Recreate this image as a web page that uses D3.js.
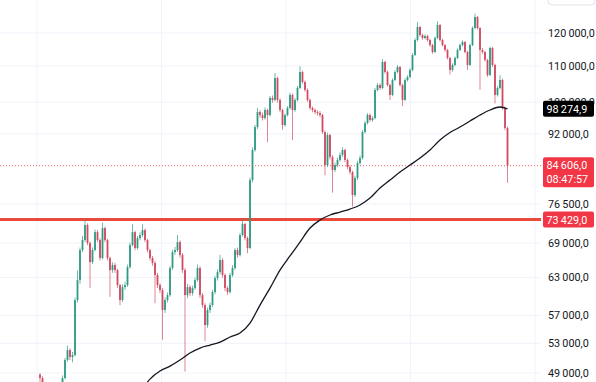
<!DOCTYPE html>
<html><head><meta charset="utf-8">
<script src="https://cdn.jsdelivr.net/npm/d3@7"></script>
<style>html,body{margin:0;padding:0;background:#fff;}svg{display:block;}</style>
</head><body><div id="chart"></div>
<script>
// ---- data ----
const firstOpen = 48800;
const closes = [48360,47480,46610,47110,46240,46860,45880,46490,47360,48360,
50710,52060,51110,51380,59390,62600,67750,69560,72360,69010,
65640,67750,71030,69560,66340,71790,69560,66340,64270,65120,
64270,61780,59390,61450,61780,64780,68650,71030,68110,69920,
70480,71410,69560,67750,66340,65470,63430,61780,60970,57850,
59390,60170,64610,67390,67750,69190,66860,64270,60170,61450,
60490,61290,62600,64610,60170,58610,55600,57850,58610,60650,
62930,63930,65990,63430,61290,60650,63430,64610,67750,66860,
70480,72550,69920,68110,81470,88170,93670,97450,96680,95920,
97970,96680,101130,100600,106590,100600,97970,94170,96680,98490,
101930,97970,100600,103820,108290,105470,103280,100600,98490,97970,
97450,97190,96680,92450,84750,91720,86550,83650,84750,85880,
87010,88170,85880,84300,83210,78320,81900,85200,86330,92450,
94670,96680,95420,95920,103280,104640,103820,111180,108290,104640,
101930,106030,108290,109720,104640,100600,106030,106870,108860,113250,
117810,121910,119370,118430,119060,117810,116260,114150,118430,122550,
117810,116260,114750,112360,108860,110310,112360,114750,116260,117190,
114150,110310,116260,121590,125160,121590,114750,114150,111770,107430,
115350,110310,101930,103820,106030,98490,93430,84606];
const highs = [49000,48600,47700,47400,47300,47100,47000,46800,47600,48700,
51000,52700,52300,51800,59800,64200,68200,70300,73300,72700,
69300,68200,71500,71400,69900,72800,72100,69800,66600,65600,
65500,64500,62000,61900,62300,65200,69100,72500,71300,70300,
71000,72500,71700,69800,68000,66700,65800,63800,62100,61300,
59800,60600,65000,67800,68300,70500,69500,67200,64600,62000,
61800,61700,63000,65200,64900,60500,58900,58200,59000,61000,
63300,64400,66900,66300,63700,61600,63800,65100,68100,68200,
70900,73500,72800,70200,82000,88800,94200,98500,98000,97300,
98600,98300,101700,101800,108000,107000,101000,98300,97100,99000,
102500,102300,101100,104400,109900,108700,105900,103700,101000,98900,
98400,97900,97700,97000,92800,92300,92000,87000,85300,86400,
87600,88800,88500,86200,84700,83500,82400,85700,86900,92900,
95200,97200,97100,96400,103800,105200,105100,112000,111600,108700,
105000,106500,108800,110300,110000,105000,106500,107400,109400,113800,
118400,123500,122300,119800,119600,119500,118200,116600,118900,123800,
122900,118200,116600,115100,112700,110800,112800,115200,116700,117700,
117500,114500,116700,122100,126300,125500,121900,115300,114500,112100,
115800,115700,110700,104300,107400,106400,98900,93800];
const lows = [47700,47100,46300,46400,45900,46000,45600,45700,46300,47200,
48200,50500,50700,50400,51200,59000,62000,67400,69200,68600,
61300,65300,67500,69200,65900,66100,69200,65900,59900,63800,
63800,61300,58600,59100,61000,61500,64500,68400,67700,67800,
69500,70100,69200,67300,65900,65000,58900,61300,60500,53500,
57400,59000,59900,64300,66900,67400,66400,63800,49200,59700,
60000,60100,61000,62300,59700,58200,53300,55200,57400,58300,
60300,62500,63600,63000,60800,60200,60400,63100,64300,66400,
66600,70200,69500,67200,67900,81000,87800,93200,96000,95300,
95500,90000,96300,99900,100200,99900,97400,93000,93800,96300,
98100,90500,97500,100200,103500,105000,102800,100100,98000,97400,
96900,96600,96100,92000,82500,84300,86000,78800,83200,84300,
85500,86600,85400,83800,82700,76000,77900,81500,84800,86000,
92100,94300,95000,95000,95600,102900,103300,103500,107800,104200,
100600,101600,105700,107900,104200,99000,100300,105600,106500,108500,
112900,117400,118900,117900,118000,117300,115700,113600,113800,118100,
117300,115800,114200,111900,107600,108400,109900,112000,114400,115800,
113700,108900,110000,115900,121200,121100,103300,113600,111300,106900,
107100,109800,99700,101500,103400,98000,92900,80900];
// moving average (black line), sampled every few candles
const maIndex  = [40,44,48,52,56,60,64,68,72,76,80,84,88,92,96,100,104,108,112,116,120,124,128,132,136,140,144,148,152,156,160,164,168,172,176,180,184,187];
const maValues = [46600,48230,49260,49900,50710,51650,52330,52750,53170,53880,54440,55900,58610,61290,64270,66700,69190,71790,73320,74300,74880,75480,76290,77700,79780,81470,83210,84750,86330,88170,90530,92340,93670,95170,96680,97970,98750,98274.9];
const maLast = 98274.9;
const levelLine = 73429;
const lastPrice = 84606;
const countdown = "08:47:57";
const priceTicks = [120000,110000,100000,92000,76500,69000,63000,57000,53000,49000];
const timeGridIdx = [-1.2,48.6,98.4,148.2,198];

// ---- layout ----
const W = 596, H = 382, plotR = 541;
const svg = d3.select("#chart").append("svg").attr("width", W).attr("height", H);
const x = d3.scaleLinear().domain([0, closes.length - 1]).range([40, 507.5]);
const y = d3.scaleLog().domain([47860, 130900]).range([H, 0]);
const loc = d3.formatLocale({decimal: ",", thousands: "\u2009", grouping: [3], currency: ["", ""]});
const fmt = loc.format(",.1f");
const font = "Roboto, 'Liberation Sans', sans-serif";
const fs = 10.8;

svg.append("defs").append("clipPath").attr("id", "plot")
  .append("rect").attr("x", 0).attr("y", 0).attr("width", plotR).attr("height", H);

const grid = svg.append("g");
grid.selectAll("line.h").data(priceTicks).join("line")
  .attr("x1", 0).attr("x2", plotR).attr("y1", d => y(d)).attr("y2", d => y(d))
  .attr("stroke", "#f0f3fa").attr("stroke-width", 1);
grid.selectAll("line.v").data(timeGridIdx).join("line")
  .attr("x1", d => x(d)).attr("x2", d => x(d)).attr("y1", 0).attr("y2", H)
  .attr("stroke", "#f0f3fa").attr("stroke-width", 1);

const plot = svg.append("g").attr("clip-path", "url(#plot)");

// dotted last-price line
plot.append("line").attr("x1", 0).attr("x2", plotR)
  .attr("y1", y(lastPrice)).attr("y2", y(lastPrice))
  .attr("stroke", "#f23645").attr("stroke-width", 1).attr("stroke-dasharray", "1,2").attr("opacity", 0.8);

// red level line
plot.append("line").attr("x1", 0).attr("x2", plotR + 3)
  .attr("y1", y(levelLine)).attr("y2", y(levelLine))
  .attr("stroke", "#ea4a3b").attr("stroke-width", 3);

const candles = closes.map((c, i) => ({
  i, o: i === 0 ? firstOpen : closes[i - 1], c, h: highs[i], l: lows[i]
}));
const up = "#2f9a82", dn = "#d04a60";
const cg = plot.append("g");
cg.selectAll("line.w").data(candles).join("line")
  .attr("x1", d => x(d.i)).attr("x2", d => x(d.i))
  .attr("y1", d => y(d.h)).attr("y2", d => y(d.l))
  .attr("stroke", d => d.c >= d.o ? up : dn).attr("stroke-width", 0.9).attr("opacity", 0.75);
cg.selectAll("rect.b").data(candles).join("rect")
  .attr("x", d => x(d.i) - 0.9).attr("width", 1.8)
  .attr("y", d => y(Math.max(d.o, d.c)))
  .attr("height", d => Math.max(1, Math.abs(y(d.o) - y(d.c))))
  .attr("fill", d => d.c >= d.o ? up : dn);

// moving average
const maPts = maIndex.map((k, j) => [k, maValues[j]]);
plot.append("path").datum(maPts)
  .attr("d", d3.line().x(d => x(d[0])).y(d => y(d[1])).curve(d3.curveMonotoneX))
  .attr("fill", "none").attr("stroke", "#131722").attr("stroke-width", 1.3);

// price axis
const ax = svg.append("g");
ax.append("rect").attr("x", 548).attr("y", -20).attr("width", 47).attr("height", 25).attr("rx", 4)
  .attr("fill", "#fff").attr("stroke", "#e0e3eb");
ax.selectAll("text.t").data(priceTicks).join("text")
  .attr("x", 548).attr("y", d => y(d)).attr("dy", "0.35em")
  .attr("font-family", font).attr("font-size", fs).attr("fill", "#131722")
  .text(d => fmt(d));

function tag(val, lines, fill, h) {
  const cy = y(val);
  const top = lines.length > 1 ? cy - 8.5 : cy - h / 2;
  ax.append("rect").attr("x", 543).attr("y", top).attr("width", 51).attr("height", h).attr("rx", 2).attr("fill", fill);
  lines.forEach((t, k) => {
    ax.append("text").attr("x", 546.5).attr("y", top + 8.5 + k * 13.5).attr("dy", "0.35em")
      .attr("font-family", font).attr("font-size", fs).attr("fill", "#fff").text(t);
  });
}
tag(maLast, [fmt(maLast)], "#000000", 16);
tag(lastPrice, [fmt(lastPrice), countdown], "#f23645", 30);
tag(levelLine, [fmt(levelLine)], "#f23645", 16);
</script></body></html>
